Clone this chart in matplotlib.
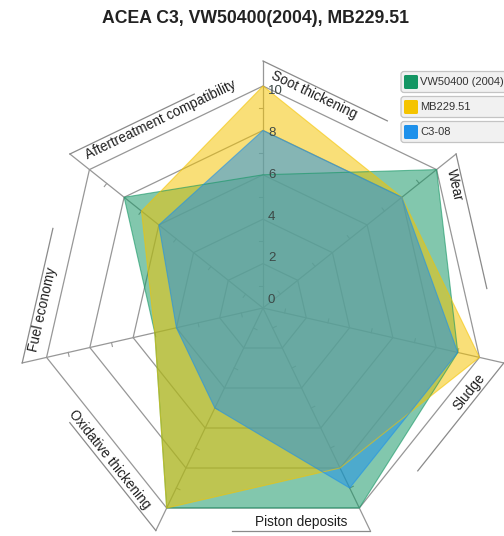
import numpy as np
import matplotlib
matplotlib.use("Agg")
import matplotlib.pyplot as plt
from matplotlib.patches import Polygon, FancyBboxPatch
from matplotlib.transforms import IdentityTransform

# data
categories = ["Soot thickening", "Wear", "Sludge", "Piston deposits",
              "Oxidative thickening", "Fuel economy", "Aftertreatment compatibility"]
series_names = ["VW50400 (2004)", "MB229.51", "C3-08"]
vw50400 = [6, 10, 9, 10, 10, 5, 8]
mb229_51 = [10, 8, 10, 8, 10, 5, 7]
c3_08 = [8, 8, 9, 9, 5, 4, 6]
ticks = [0, 2, 4, 6, 8, 10]
colors = ["#149664", "#f5c400", "#1e91eb"]

plt.rcParams['font.family'] = ['Liberation Sans', 'DejaVu Sans']

W, H = 504, 536
fig = plt.figure(figsize=(W / 100, H / 100), dpi=100)
ax = fig.add_axes([0, 0, 1, 1])
cx, cy, sc = 263, 308, 22.2          # centre in px, px per unit
ax.set_xlim(-cx / sc, (W - cx) / sc)
ax.set_ylim(-(H - cy) / sc, cy / sc)
ax.axis('off')
px = 1 / sc

n = len(categories)
theta = np.arange(n) * 2 * np.pi / n
ux, uy = np.sin(theta), np.cos(theta)
vmax = ticks[-1]
grid_c = '#979797'

# rings
for v in ticks[1:]:
    ax.add_patch(Polygon(np.c_[v * ux, v * uy], closed=True, fill=False,
                         ec=grid_c, lw=0.9, zorder=1))
# spokes + extension used as tab side
ext = 25 * px
for i in range(n):
    ax.plot([0, (vmax + ext) * ux[i]], [0, (vmax + ext) * uy[i]],
            color=grid_c, lw=0.9, zorder=1)
    # minor ticks
    for v in range(1, vmax, 2):
        px0, py0 = v * ux[i], v * uy[i]
        ax.plot([px0, px0 - 4 * px * uy[i]], [py0, py0 + 4 * px * ux[i]],
                color=grid_c, lw=0.8, zorder=1)

# series fills, first series at the bottom
for vals, c in zip([vw50400, mb229_51, c3_08], colors):
    v = np.array(vals, dtype=float)
    ax.add_patch(Polygon(np.c_[v * ux, v * uy], closed=True, fc=c, alpha=0.53,
                         ec='none', zorder=2))
    ax.add_patch(Polygon(np.c_[v * ux, v * uy], closed=True, fill=False,
                         ec=c, alpha=0.6, lw=0.8, zorder=3))

# category tabs along the outer edge
tab_len = 138 * px
for i, name in enumerate(categories):
    j = (i + 1) % n
    P = np.array([vmax * ux[i], vmax * uy[i]])
    Q = np.array([vmax * ux[j], vmax * uy[j]])
    e = (Q - P) / np.linalg.norm(Q - P)
    nrm = np.array([e[1], -e[0]])
    if np.dot(nrm, (P + Q) / 2) < 0:
        nrm = -nrm
    B = P + ext * np.array([ux[i], uy[i]])
    C = B + tab_len * e
    ax.plot([B[0], C[0]], [B[1], C[1]], color='#8a8a8a', lw=0.9, zorder=1)
    ang = np.degrees(np.arctan2(e[1], e[0]))
    if e[0] < -1e-6:
        ang += 180
        pos = P + 12 * px * e + 14 * px * nrm
        ha = 'right'
    else:
        pos = P + 3 * px * e + 14 * px * nrm
        ha = 'left'
    ax.text(pos[0], pos[1], name, rotation=ang, rotation_mode='anchor',
            ha=ha, va='center', fontsize=9.8, color='#1f1f1f', zorder=5)

# value labels along the first spoke
for v in ticks:
    ax.text(5 * px, v * 0.94 + 0.36, str(v), ha='left', va='center',
            fontsize=9.5, color='#3c4846', zorder=5)

# legend (one boxed entry per series)
ident = IdentityTransform()
for k, (name, c) in enumerate(zip(series_names, colors)):
    yc = H - (82 + 25 * k)
    fig.patches.append(FancyBboxPatch((401, yc - 10.5), 120, 21,
                                      boxstyle='round,pad=0,rounding_size=3',
                                      fc='#f1f1f1', ec='#c4c4c4', lw=0.9,
                                      transform=ident, figure=fig))
    fig.patches.append(FancyBboxPatch((404, yc - 7), 14, 14,
                                      boxstyle='round,pad=0,rounding_size=1.5',
                                      fc=c, ec='none', transform=ident, figure=fig))
    fig.text(420 / W, yc / H, name, ha='left', va='center', fontsize=8,
             color='#333333')

fig.text(256 / W, 1 - 18.5 / H, "ACEA C3, VW50400(2004), MB229.51", ha='center',
         va='center', fontsize=12.7, fontweight='bold', color='#222222')

fig.savefig('out.png', dpi=100)
